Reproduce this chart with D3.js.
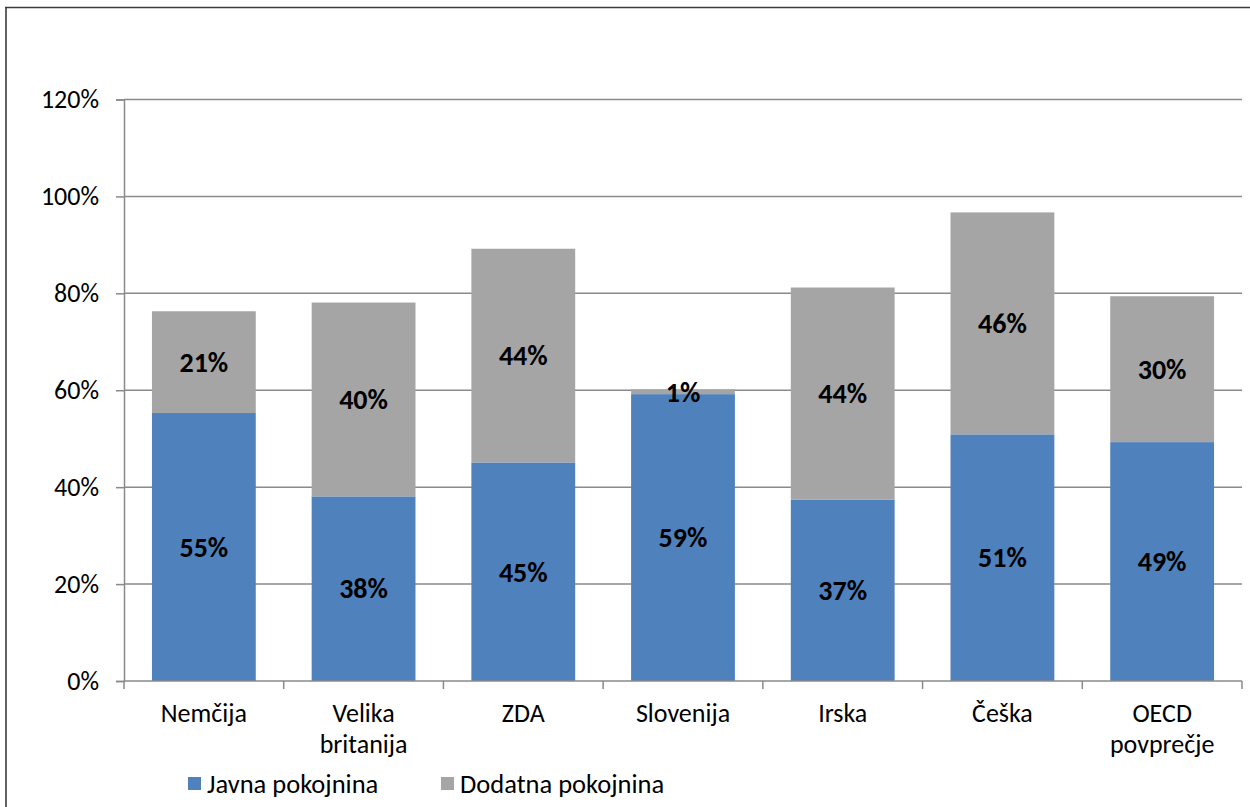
<!DOCTYPE html>
<html>
<head>
<meta charset="utf-8">
<script src="https://cdn.jsdelivr.net/npm/d3@7"></script>
<style>
  html, body { margin: 0; padding: 0; background: #fff; }
  svg { display: block; font-family: "Carlito", "Lato", "Noto Sans", sans-serif; }
</style>
</head>
<body>
<svg id="chart" width="1250" height="807"></svg>
<script>
// Pension replacement, public vs. supplementary, by country
const categories = [["Nemčija"], ["Velika", "britanija"], ["ZDA"], ["Slovenija"], ["Irska"], ["Češka"], ["OECD", "povprečje"]];
const javna   = [0.553, 0.381, 0.451, 0.592, 0.374, 0.509, 0.493];
const dodatna = [0.210, 0.400, 0.441, 0.010, 0.438, 0.458, 0.301];
const seriesNames = ["Javna pokojnina", "Dodatna pokojnina"];
const seriesColors = ["#4F81BD", "#A5A5A5"];
const yTicks = [0, 0.2, 0.4, 0.6, 0.8, 1.0, 1.2];

const svg = d3.select("#chart");
const W = 1250, H = 807;
const plot = { left: 124, right: 1242, top: 99.5, bottom: 681 };

// outer frame (top and left edges visible)
svg.append("line").attr("x1", 5).attr("x2", W).attr("y1", 7.5).attr("y2", 7.5)
  .attr("stroke", "#3c3c3c").attr("stroke-width", 1.6);
svg.append("line").attr("x1", 6).attr("x2", 6).attr("y1", 7).attr("y2", H)
  .attr("stroke", "#3c3c3c").attr("stroke-width", 1.6);

const keys = categories.map(c => c.join(" "));
const x = d3.scaleBand().domain(keys).range([plot.left, plot.right])
  .paddingInner(0.35).paddingOuter(0.175);
const y = d3.scaleLinear().domain([0, 1.2]).range([plot.bottom, plot.top]);

// gridlines
svg.append("g").selectAll("line").data(yTicks.slice(1)).join("line")
  .attr("x1", plot.left).attr("x2", plot.right)
  .attr("y1", d => y(d)).attr("y2", d => y(d))
  .attr("stroke", "#8a8a8a").attr("stroke-width", 1.5);

// stacked data
const rows = keys.map((k, i) => ({ key: k, javna: javna[i], dodatna: dodatna[i] }));
const stack = d3.stack().keys(["javna", "dodatna"])(rows);
const fmt = d3.format(".0%");

const layers = svg.append("g").selectAll("g").data(stack).join("g")
  .attr("fill", (d, i) => seriesColors[i]);
layers.selectAll("rect").data(d => d).join("rect")
  .attr("x", d => x(d.data.key))
  .attr("width", x.bandwidth())
  .attr("y", d => y(d[1]))
  .attr("height", d => y(d[0]) - y(d[1]));

// y axis
const yAxis = d3.axisLeft(y).tickValues(yTicks).tickFormat(fmt).tickSize(8).tickPadding(17);
const gy = svg.append("g").attr("transform", `translate(${plot.left},0)`).call(yAxis);
gy.select(".domain").attr("stroke", "#8a8a8a").attr("stroke-width", 1.5);
gy.selectAll(".tick line").attr("stroke", "#8a8a8a").attr("stroke-width", 1.5);
gy.selectAll(".tick text").attr("font-size", 26).attr("fill", "#000")
  .attr("font-family", "Carlito, Lato, sans-serif");

// x axis line and category separators
svg.append("line").attr("x1", plot.left).attr("x2", plot.right)
  .attr("y1", plot.bottom).attr("y2", plot.bottom)
  .attr("stroke", "#8a8a8a").attr("stroke-width", 1.5);
const step = x.step();
const sepX = d3.range(keys.length + 1).map(i => plot.left + i * step);
svg.append("g").selectAll("line").data(sepX).join("line")
  .attr("x1", d => d).attr("x2", d => d)
  .attr("y1", plot.bottom).attr("y2", plot.bottom + 8)
  .attr("stroke", "#8a8a8a").attr("stroke-width", 1.5);

// category labels
const xl = svg.append("g").selectAll("text").data(categories).join("text")
  .attr("x", (d, i) => x(keys[i]) + x.bandwidth() / 2)
  .attr("y", 722)
  .attr("text-anchor", "middle")
  .attr("font-size", 26)
  .attr("fill", "#000");
xl.selectAll("tspan").data(d => d).join("tspan")
  .attr("x", function () { return this.parentNode.getAttribute("x"); })
  .attr("dy", (d, i) => i === 0 ? 0 : 31)
  .text(d => d);

// value labels centred in each segment
layers.selectAll("text").data(d => d).join("text")
  .attr("x", d => x(d.data.key) + x.bandwidth() / 2)
  .attr("y", d => (y(d[0]) + y(d[1])) / 2)
  .attr("dy", "0.35em")
  .attr("text-anchor", "middle")
  .attr("font-size", 28)
  .attr("font-weight", "bold")
  .attr("fill", "#000")
  .text(d => fmt(d[1] - d[0]));

// legend
const legendX = [188, 441];
const lg = svg.append("g").selectAll("g").data(seriesNames).join("g")
  .attr("transform", (d, i) => `translate(${legendX[i]},777)`);
lg.append("rect").attr("width", 13).attr("height", 13).attr("fill", (d, i) => seriesColors[i]);
lg.append("text").attr("x", 19).attr("y", 6.5).attr("dy", "0.35em")
  .attr("font-size", 26.5).attr("fill", "#000").text(d => d);
</script>
</body>
</html>
